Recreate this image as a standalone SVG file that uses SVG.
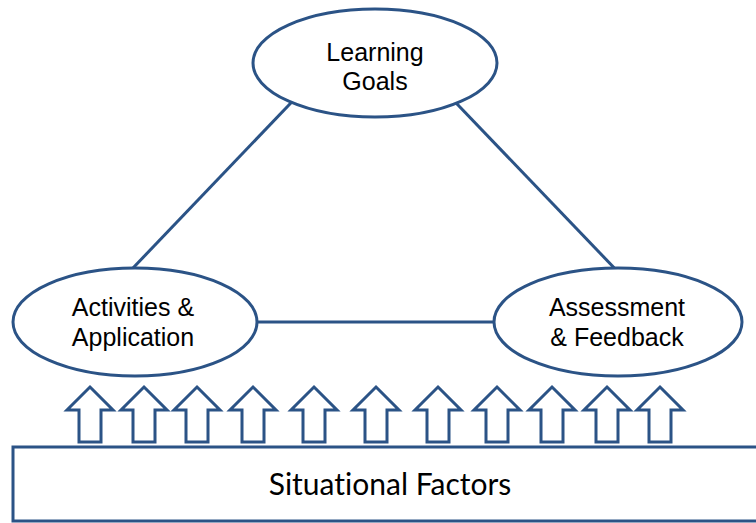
<svg xmlns="http://www.w3.org/2000/svg" width="756" height="523" viewBox="0 0 756 523">
<style>
.node{fill:#fff;stroke:#2b5386;stroke-width:3}
.conn{stroke:#2b5386;stroke-width:3;fill:none}
.lbl{font-family:"Liberation Sans",Arial,sans-serif;font-size:25px;fill:#000;text-anchor:middle}
.arr{fill:#fff;stroke:#2b5386;stroke-width:3;stroke-linejoin:miter}
.sf{font-family:Lato,"Open Sans",sans-serif;font-size:30px;fill:#000;text-anchor:middle;font-variant-ligatures:none}
</style>
<defs>
<path id="up" d="M0,0 L23,23 L11,23 L11,55 L-11,55 L-11,23 L-23,23 Z"/>
</defs>
<rect width="756" height="523" fill="#fff"/>
<g id="connectors">
<line class="conn" x1="300.4" y1="93" x2="126.3" y2="275"/>
<line class="conn" x1="446.5" y1="93" x2="621" y2="275"/>
<line class="conn" x1="250" y1="322" x2="500" y2="322"/>
</g>
<g id="learning-goals">
<ellipse class="node" cx="375" cy="63" rx="122" ry="54"/>
<text class="lbl" x="375" y="61">Learning</text>
<text class="lbl" x="375" y="90">Goals</text>
</g>
<g id="activities">
<ellipse class="node" cx="135" cy="322" rx="122" ry="54"/>
<text class="lbl" x="133" y="316">Activities &amp;</text>
<text class="lbl" x="133" y="346">Application</text>
</g>
<g id="assessment">
<ellipse class="node" cx="618" cy="322" rx="124" ry="54"/>
<text class="lbl" x="617" y="316">Assessment</text>
<text class="lbl" x="617" y="346">&amp; Feedback</text>
</g>
<g id="arrows">
<use href="#up" class="arr" x="90" y="387"/>
<use href="#up" class="arr" x="144" y="387"/>
<use href="#up" class="arr" x="197" y="387"/>
<use href="#up" class="arr" x="253" y="387"/>
<use href="#up" class="arr" x="314" y="387"/>
<use href="#up" class="arr" x="376" y="387"/>
<use href="#up" class="arr" x="438" y="387"/>
<use href="#up" class="arr" x="497" y="387"/>
<use href="#up" class="arr" x="552" y="387"/>
<use href="#up" class="arr" x="607" y="387"/>
<use href="#up" class="arr" x="660" y="387"/>
</g>
<g id="situational-factors">
<rect x="13" y="447" width="760" height="74" fill="#fff" stroke="#2b5386" stroke-width="3"/>
<text class="sf" x="390" y="495">Situational Factors</text>
</g>
</svg>
